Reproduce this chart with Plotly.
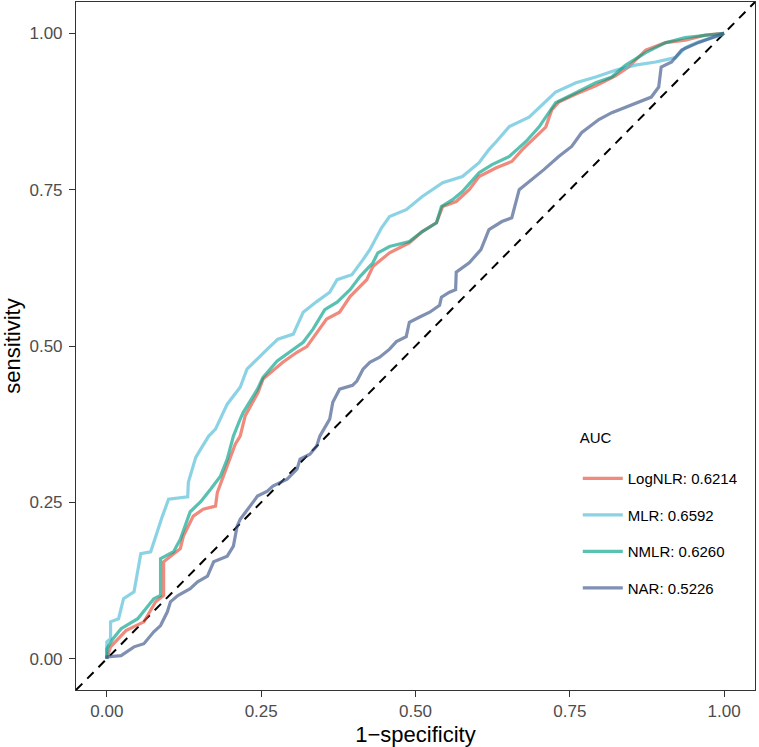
import plotly.graph_objects as go

# ROC data (1-specificity, sensitivity)
mlr_fpr = [0, 0, 0.006, 0.006, 0.019, 0.027, 0.044, 0.050, 0.055, 0.071, 0.076, 0.090, 0.100, 0.131, 0.132,
           0.144, 0.152, 0.165, 0.176, 0.195, 0.216, 0.227, 0.260, 0.277, 0.302, 0.318, 0.340, 0.361, 0.373,
           0.397, 0.415, 0.426, 0.445, 0.458, 0.485, 0.511, 0.544, 0.576, 0.603, 0.619, 0.631, 0.652, 0.684,
           0.697, 0.711, 0.727, 0.760, 0.792, 0.824, 0.856, 0.889, 0.921, 0.937, 0.958, 0.995, 1]
mlr_tpr = [0, 0.027, 0.032, 0.059, 0.064, 0.096, 0.107, 0.144, 0.168, 0.171, 0.187, 0.228, 0.255, 0.259, 0.282,
           0.322, 0.335, 0.356, 0.367, 0.407, 0.434, 0.463, 0.495, 0.511, 0.519, 0.554, 0.571, 0.586, 0.606,
           0.614, 0.638, 0.654, 0.689, 0.707, 0.718, 0.739, 0.761, 0.771, 0.793, 0.814, 0.827, 0.851, 0.866,
           0.878, 0.890, 0.906, 0.921, 0.930, 0.941, 0.949, 0.954, 0.961, 0.977, 0.986, 0.997, 1]

nmlr_fpr = [0, 0, 0.010, 0.023, 0.050, 0.076, 0.087, 0.087, 0.108, 0.119, 0.135, 0.152, 0.168, 0.184, 0.195,
            0.205, 0.216, 0.221, 0.244, 0.253, 0.276, 0.302, 0.318, 0.334, 0.353, 0.373, 0.394, 0.410, 0.431,
            0.439, 0.458, 0.490, 0.511, 0.534, 0.542, 0.560, 0.576, 0.603, 0.624, 0.652, 0.668, 0.679, 0.700,
            0.716, 0.727, 0.760, 0.792, 0.818, 0.840, 0.873, 0.905, 0.937, 0.969, 1]
nmlr_tpr = [0, 0.016, 0.032, 0.048, 0.064, 0.096, 0.101, 0.160, 0.171, 0.191, 0.235, 0.251, 0.271, 0.292, 0.319,
            0.356, 0.383, 0.394, 0.431, 0.450, 0.476, 0.495, 0.506, 0.527, 0.558, 0.570, 0.590, 0.611, 0.633,
            0.649, 0.659, 0.667, 0.683, 0.697, 0.723, 0.734, 0.747, 0.777, 0.790, 0.803, 0.817, 0.827, 0.850,
            0.873, 0.889, 0.905, 0.921, 0.930, 0.949, 0.969, 0.985, 0.993, 0.997, 1]

lognlr_fpr = [0, 0.006, 0.031, 0.060, 0.079, 0.092, 0.092, 0.103, 0.119, 0.124, 0.140, 0.156, 0.176, 0.179,
              0.195, 0.208, 0.216, 0.224, 0.245, 0.253, 0.285, 0.308, 0.324, 0.340, 0.356, 0.377, 0.394, 0.421,
              0.431, 0.458, 0.490, 0.511, 0.534, 0.544, 0.566, 0.587, 0.603, 0.631, 0.656, 0.673, 0.695, 0.711,
              0.721, 0.732, 0.760, 0.792, 0.824, 0.845, 0.873, 0.905, 0.937, 0.969, 1]
lognlr_tpr = [0, 0.019, 0.045, 0.059, 0.091, 0.101, 0.155, 0.164, 0.176, 0.196, 0.228, 0.239, 0.244, 0.266,
              0.308, 0.343, 0.356, 0.388, 0.426, 0.447, 0.474, 0.490, 0.499, 0.522, 0.543, 0.554, 0.579, 0.606,
              0.627, 0.649, 0.665, 0.683, 0.697, 0.723, 0.731, 0.750, 0.771, 0.785, 0.795, 0.814, 0.835, 0.850,
              0.878, 0.890, 0.903, 0.916, 0.932, 0.946, 0.973, 0.985, 0.989, 0.997, 1]

nar_fpr = [0, 0, 0.023, 0.044, 0.060, 0.076, 0.087, 0.098, 0.103, 0.115, 0.135, 0.147, 0.163, 0.173, 0.195,
           0.205, 0.211, 0.216, 0.232, 0.244, 0.260, 0.269, 0.292, 0.308, 0.313, 0.329, 0.340, 0.345, 0.361,
           0.366, 0.377, 0.398, 0.405, 0.415, 0.426, 0.442, 0.458, 0.469, 0.485, 0.490, 0.506, 0.523, 0.539,
           0.542, 0.555, 0.565, 0.566, 0.587, 0.606, 0.619, 0.640, 0.656, 0.668, 0.689, 0.708, 0.732, 0.753,
           0.769, 0.781, 0.797, 0.818, 0.840, 0.861, 0.882, 0.894, 0.898, 0.915, 0.931, 0.958, 0.985, 1]
nar_tpr = [0, 0.003, 0.005, 0.019, 0.024, 0.043, 0.053, 0.075, 0.091, 0.101, 0.112, 0.123, 0.132, 0.155, 0.164,
           0.180, 0.212, 0.223, 0.244, 0.260, 0.268, 0.276, 0.287, 0.303, 0.319, 0.327, 0.340, 0.356, 0.383,
           0.410, 0.431, 0.437, 0.444, 0.463, 0.474, 0.482, 0.495, 0.507, 0.515, 0.538, 0.546, 0.554, 0.565,
           0.578, 0.586, 0.590, 0.618, 0.633, 0.654, 0.686, 0.699, 0.705, 0.750, 0.766, 0.782, 0.803, 0.819,
           0.841, 0.850, 0.862, 0.873, 0.882, 0.890, 0.898, 0.914, 0.946, 0.954, 0.973, 0.985, 0.994, 1]

names = ["LogNLR: 0.6214", "MLR: 0.6592", "NMLR: 0.6260", "NAR: 0.5226"]
colors = ["rgba(230,75,53,0.65)", "rgba(77,187,213,0.65)", "rgba(0,160,135,0.65)", "rgba(60,84,136,0.65)"]
series = [(lognlr_fpr, lognlr_tpr), (mlr_fpr, mlr_tpr), (nmlr_fpr, nmlr_tpr), (nar_fpr, nar_tpr)]
diag = [-0.05, 1.05]

FONT = "Liberation Sans, Arial, sans-serif"
fig = go.Figure()
fig.add_trace(go.Scatter(x=diag, y=diag, mode="lines", showlegend=False,
                         line=dict(color="black", width=2, dash="9px,7px"), hoverinfo="skip"))
for (fx, ty), nm, c in zip(series, names, colors):
    fig.add_trace(go.Scatter(x=fx, y=ty, mode="lines", name=nm, legendgroup=nm,
                             line=dict(color=c, width=3.2)))

axis_common = dict(range=[-0.05, 1.05], showgrid=False, zeroline=False, showline=True, mirror=True,
                   linecolor="#333333", linewidth=1.1, ticks="outside", ticklen=6, tickwidth=1.1,
                   tickcolor="#333333", tickvals=[0, 0.25, 0.5, 0.75, 1.0],
                   ticktext=["0.00", "0.25", "0.50", "0.75", "1.00"],
                   tickfont=dict(family=FONT, size=17, color="#4D4D4D"))
fig.update_xaxes(**axis_common, title=dict(text="1\u2212specificity", font=dict(family=FONT, size=22, color="black"), standoff=6))
fig.update_yaxes(**axis_common, ticklabelstandoff=3,
                 title=dict(text="sensitivity", font=dict(family=FONT, size=22, color="black"), standoff=8))

fig.update_layout(
    width=759, height=747,
    margin=dict(l=76, r=4, t=2, b=57),
    plot_bgcolor="white", paper_bgcolor="white",
    font=dict(family=FONT),
    legend=dict(title=dict(text="AUC<br><span style='font-size:4px'> </span>",
                           font=dict(family=FONT, size=15, color="black")),
                font=dict(family=FONT, size=15, color="black"),
                x=0.739, y=0.388, xanchor="left", yanchor="top",
                bgcolor="rgba(0,0,0,0)", tracegroupgap=14, itemwidth=40),
)
fig.write_html("out.html")
